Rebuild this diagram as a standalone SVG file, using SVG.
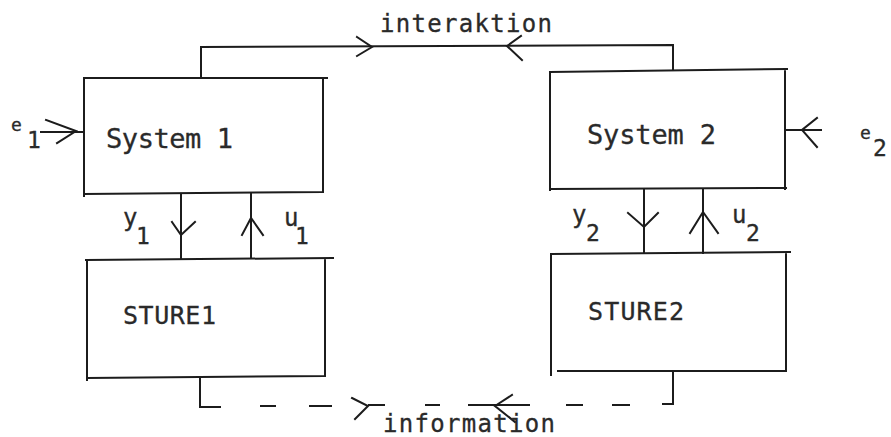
<svg xmlns="http://www.w3.org/2000/svg" width="891" height="437" viewBox="0 0 891 437">
  <style>
    .ln { fill: none; stroke: #1c1c1c; stroke-width: 2; stroke-linecap: square; stroke-linejoin: miter; }
    .dash { fill: none; stroke: #1c1c1c; stroke-width: 2; }
    .tx { font-family: "DejaVu Sans Mono", "Liberation Mono", monospace; fill: #2a2a2a; stroke: #2a2a2a; stroke-width: 0.3; }
    .big { font-size: 27px; }
    .cap { font-size: 25px; }
    .lbl { font-size: 24px; }
    .sub { font-size: 23px; }
    .sm { font-size: 18px; }
  </style>
  <rect width="891" height="437" fill="#ffffff"/>

  <!-- upper left block -->
  <g id="system1">
    <path class="ln" d="M84,78 H327 M323,78 V192 M84,194 L323,192 M84,78 V196"/>
    <text class="tx big" x="106" y="148" textLength="127" lengthAdjust="spacing">System 1</text>
  </g>

  <!-- upper right block -->
  <g id="system2">
    <path class="ln" d="M550,72 L787,69 M785,69 V189 M550,189 L786,188 M550,72 V190"/>
    <text class="tx big" x="587" y="144" textLength="129" lengthAdjust="spacing">System 2</text>
  </g>

  <!-- lower left controller -->
  <g id="sture1">
    <path class="ln" d="M86,260 L333,258 M325,259 V376 M87,378 L325,376 M87,260 V380"/>
    <text class="tx cap" x="123" y="324" textLength="93" lengthAdjust="spacing">STURE1</text>
  </g>

  <!-- lower right controller -->
  <g id="sture2">
    <path class="ln" d="M551,254 L790,252 M786,253 V371 M558,371 L786,371 M551,254 V375"/>
    <text class="tx cap" x="588" y="320" textLength="96" lengthAdjust="spacing">STURE2</text>
  </g>

  <g id="connectors">
    <!-- interaction link between the two systems -->
    <path class="ln" d="M201,78 V47 L673,45 V70"/>
    <path class="ln" d="M357,37 L372,47 L357,56"/>
    <path class="ln" d="M521,36 L507,46 L522,60"/>
    <text class="tx lbl" x="380" y="32" textLength="172" lengthAdjust="spacing">interaktion</text>

    <!-- external input e1 -->
    <path class="ln" d="M41,132 H83"/>
    <path class="ln" d="M46,120 L76,131 L57,143"/>
    <text class="tx sm" x="11" y="131">e</text>
    <text class="tx sub" x="27" y="148">1</text>

    <!-- external input e2 -->
    <path class="ln" d="M786,130 H821"/>
    <path class="ln" d="M817,118 L802,130 L817,147"/>
    <text class="tx sm" x="860" y="139">e</text>
    <text class="tx sub" x="873" y="156">2</text>

    <!-- y1 / u1 -->
    <path class="ln" d="M181,194 V258"/>
    <path class="ln" d="M172,222 L181,235 L195,222"/>
    <path class="ln" d="M251,258 V194"/>
    <path class="ln" d="M242,235 L251,218 L263,235"/>
    <text class="tx lbl" x="123" y="226">y</text>
    <text class="tx sub" x="136" y="244">1</text>
    <text class="tx lbl" x="284" y="226">u</text>
    <text class="tx sub" x="295" y="244">1</text>

    <!-- y2 / u2 -->
    <path class="ln" d="M644,189 V253"/>
    <path class="ln" d="M628,213 L644,227 L658,213"/>
    <path class="ln" d="M703,253 V189"/>
    <path class="ln" d="M690,233 L703,212 L718,233"/>
    <text class="tx lbl" x="572" y="223">y</text>
    <text class="tx sub" x="586" y="241">2</text>
    <text class="tx lbl" x="732" y="223">u</text>
    <text class="tx sub" x="746" y="241">2</text>

    <!-- information link (dashed) -->
    <path class="ln" d="M200,378 V407 H220"/>
    <path class="dash" d="M260,406 H276 M309,406 H332 M368,405 H385 M425,405 H440 M468,405 H495 M495,405 H530 M566,405 H583 M612,405 H630"/>
    <path class="ln" d="M352,398 L368,406 L355,419"/>
    <path class="ln" d="M512,395 L495,406 L515,422"/>
    <path class="ln" d="M663,404 H673 V372"/>
    <text class="tx lbl" x="383" y="432" textLength="172" lengthAdjust="spacing">information</text>
  </g>
</svg>
